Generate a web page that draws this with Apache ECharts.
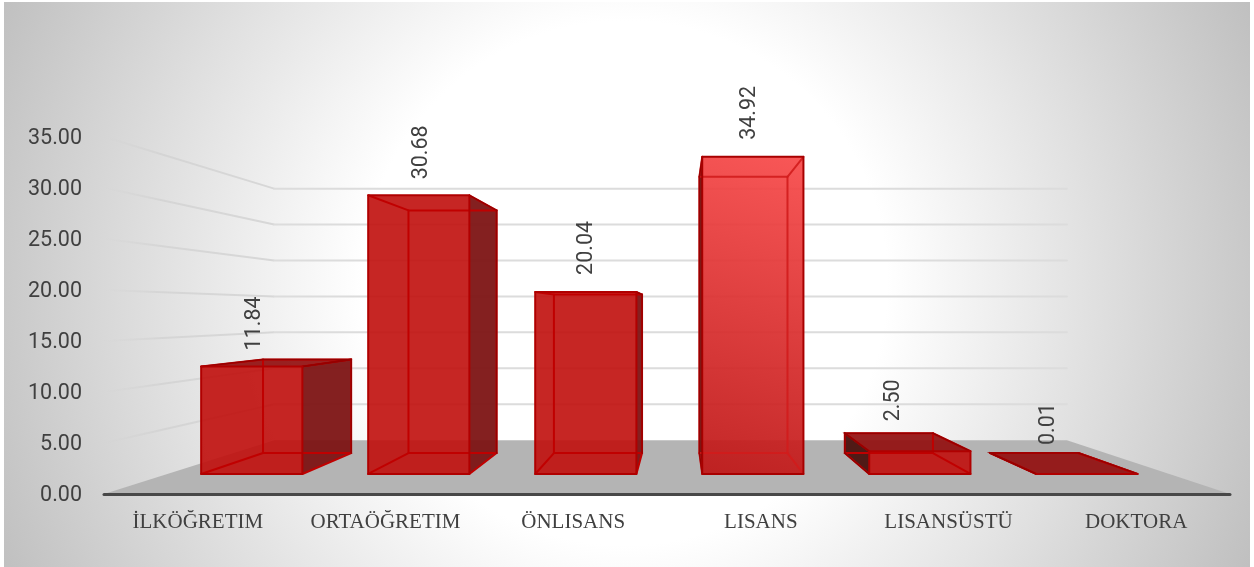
<!DOCTYPE html>
<html>
<head>
<meta charset="utf-8">
<style>html,body{margin:0;padding:0;background:#fff}#c{width:1254px;height:567px}</style>
<script src="https://cdn.jsdelivr.net/npm/echarts@6/dist/echarts.min.js"></script>
</head>
<body>
<div id="c"></div>
<script>
const categories = ['İLKÖĞRETIM','ORTAÖĞRETIM','ÖNLISANS','LISANS','LISANSÜSTÜ','DOKTORA'];
const values = [11.84,30.68,20.04,34.92,2.50,0.01];
const gridTicks = [5,10,15,20,25,30,35];
// label placement relative to the bar (pixels)
const labelDx = [3,3,1,-3,-26,-38];
const labelGap = [9,16,17,17,12,8];

// perspective projection: front plane -> deeper planes, towards a vanishing point
const VX = 679, VY = 312, S_WALL = 0.704, S_FRONT = 0.89, S_BACK = 0.775, HALF = 0.303, BAR_SHIFT = 1;
const proj = (p, s) => [VX + (p[0]-VX)*s, VY + (p[1]-VY)*s];
const maxV = Math.max(...values);
const EDGE = '#b00000', EDGE_DARK = '#960000', INNER = '#c00000';
const NUM_FONT = 'Roboto';

function poly(points, fill, stroke, w, z2){
  return {type:'polygon', shape:{points}, z2:z2||0,
    style:{fill:fill||'none', stroke:stroke||'none', lineWidth:w||0, lineJoin:'round'}};
}
function line(points, stroke, w, z2){
  return {type:'polyline', shape:{points}, z2:z2||0, style:{fill:'none', stroke, lineWidth:w, lineCap:'round'}};
}

function renderFloor(params, api){
  const r = params.coordSys, y0 = r.y + r.height;
  const a=[r.x,y0], b=[r.x+r.width,y0];
  return poly([a,proj(a,S_WALL),proj(b,S_WALL),b],'#b4b4b4');
}
function renderGrid(params, api){
  const r = params.coordSys, v = api.value(0);
  const y = api.coord([0,v])[1];
  const a=[r.x,y], b=proj(a,S_WALL), c=proj([r.x+r.width,y],S_WALL);
  return {type:'group',children:[
    {type:'polyline',shape:{points:[a,b]},style:{fill:'none',lineWidth:2,
      stroke:new echarts.graphic.LinearGradient(a[0],a[1],b[0],b[1],[
        {offset:0,color:'rgba(205,205,205,0)'},{offset:0.35,color:'rgba(205,205,205,0.6)'},{offset:1,color:'rgba(215,215,215,1)'}],true)}},
    line([b,c],'#dcdcdc',2)
  ]};
}
function renderBar(params, api){
  const i = api.value(0), v = api.value(1);
  const hw = HALF*api.size([1,0])[0];
  const base = api.coord([i,0]), top = api.coord([i,v]);
  const BL=[base[0]-hw,base[1]], BR=[base[0]+hw,base[1]], TL=[base[0]-hw,top[1]], TR=[base[0]+hw,top[1]];
  const at = (p,s)=>{const q=proj(p,s);q[0]+=BAR_SHIFT;return q;};
  const f = p=>at(p,S_FRONT), k = p=>at(p,S_BACK);
  const isMax = v===maxV;
  const fBL=f(BL),fBR=f(BR),fTL=f(TL),fTR=f(TR),kBL=k(BL),kBR=k(BR),kTL=k(TL),kTR=k(TR);
  const frontFill = isMax
    ? new echarts.graphic.LinearGradient(fBL[0],fBL[1],fTR[0],fTR[1],[{offset:0,color:'rgba(190,22,22,0.93)'},{offset:1,color:'rgba(248,74,74,0.93)'}],true)
    : 'rgba(192,14,12,0.9)';
  const sideFill = isMax ? 'rgba(244,70,70,0.93)' : 'rgba(125,20,20,0.95)';
  const inner = isMax ? 'rgba(210,28,28,0.9)' : INNER;
  const ch = [];
  if (kBR[0] > fBR[0]) {
    ch.push(poly([fTR,kTR,kBR,fBR], sideFill, null, 0, 1));
    ch.push(line([fTR,kTR,kBR],EDGE_DARK,1.5,5));
  }
  if (kBL[0] < fBL[0]) {
    ch.push(poly([fTL,kTL,kBL,fBL], 'rgba(75,18,14,0.95)', null, 0, 1));
    ch.push(line([fBL,kBL,kTL,fTL],EDGE_DARK,1.5,5));
  }
  if (kTL[1] < fTL[1]) {
    ch.push(poly([fTL,fTR,kTR,kTL],'rgba(146,16,16,0.93)',null,0,2));
    ch.push(line([fTL,kTL,kTR,fTR],EDGE_DARK,1.5,5));
  }
  ch.push(poly([fTL,fTR,fBR,fBL],frontFill,null,0,3));
  ch.push(line([kTL,kTR,kBR,kBL,kTL],inner,2,4));
  ch.push(line([kBL,fBL],inner,2,4));
  ch.push(line([kBR,fBR],inner,2,4));
  ch.push(line([kTL,fTL],inner,2,4));
  ch.push(line([kTR,fTR],inner,2,4));
  ch.push(poly([fTL,fTR,fBR,fBL],null,isMax?'#a80000':EDGE,2,6));
  const lx = (fBL[0]+fBR[0])/2 + labelDx[i];
  const ly = Math.min(fTL[1],kTL[1]) - labelGap[i];
  ch.push({type:'text',x:lx,y:ly,rotation:Math.PI/2,z2:10,
    style:{text:v.toFixed(2),fill:'#404040',font:'21.5px '+NUM_FONT,align:'left',verticalAlign:'middle'}});
  return {type:'group',children:ch};
}

const chart = echarts.init(document.getElementById('c'),null,{renderer:'canvas',width:1254,height:567});
chart.setOption({
  animation:false,
  backgroundColor:'#ffffff',
  graphic:[{type:'rect',z:-10,silent:true,shape:{x:4,y:2,width:1246,height:565},
    style:{stroke:null,fill:new echarts.graphic.RadialGradient(625,283,690,[
      {offset:0,color:'#ffffff'},{offset:0.38,color:'#ffffff'},{offset:1,color:'#bfbfbf'}],true)}}],
  grid:{left:104,width:1126,top:136.8,bottom:73,containLabel:false},
  xAxis:{type:'category',data:categories,z:2,
    axisTick:{show:false},
    axisLine:{show:true,lineStyle:{color:'#484848',width:3,cap:'round'},onZero:true},
    axisLabel:{color:'#404040',fontFamily:'Liberation Serif',fontSize:21,margin:18,interval:0}},
  yAxis:{type:'value',min:0,max:35,interval:5,
    axisLine:{show:false},axisTick:{show:false},splitLine:{show:false},
    axisLabel:{margin:22,formatter:v=>'{a|'+v.toFixed(2)+'}',
      rich:{a:{color:'#404040',fontFamily:NUM_FONT,fontSize:21.5,padding:[4,0,0,0]}}}},
  series:[
    {type:'custom',name:'floor',z:1,silent:true,data:[[0]],renderItem:renderFloor,clip:false,encode:{x:[],y:[]}},
    {type:'custom',name:'grid',z:1,silent:true,data:gridTicks.map(v=>[v]),renderItem:renderGrid,clip:false,encode:{y:0}},
    {type:'custom',name:'bars',z:3,data:values.map((v,i)=>[i,v]),renderItem:renderBar,clip:false,encode:{x:0,y:1}}
  ]
});
</script>
</body>
</html>
